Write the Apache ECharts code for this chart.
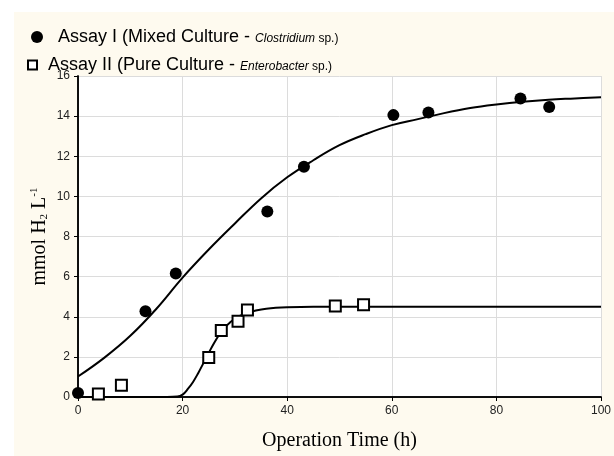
<!DOCTYPE html>
<html>
<head>
<meta charset="utf-8">
<script src="https://cdn.jsdelivr.net/npm/echarts@6/dist/echarts.min.js"></script>
<style>
html,body{margin:0;padding:0;background:#ffffff;}
#chart{width:614px;height:456px;}
</style>
</head>
<body>
<div id="chart"></div>
<script>
// Assay I (mixed culture) measured points [time h, mmol H2/L]
const assay1Points = [[0,0.2],[12.9,4.28],[18.7,6.15],[36.2,9.25],[43.2,11.48],[60.3,14.05],[67.0,14.18],[84.6,14.88],[90.1,14.45]];
// Assay II (pure culture) measured points
const assay2Points = [[3.9,0.15],[8.3,0.58],[25.0,1.97],[27.4,3.32],[30.6,3.77],[32.4,4.34],[49.2,4.53],[54.6,4.6]];
// fitted curve, Assay I
const assay1Curve = [[0,1.02],[5,1.95],[10,3.05],[15,4.4],[20,5.95],[25,7.35],[30,8.65],[35,9.9],[40,10.95],[45,11.8],[50,12.55],[55,13.1],[60,13.55],[65,13.85],[70,14.15],[75,14.4],[80,14.58],[85,14.72],[90,14.82],[95,14.88],[100,14.94]];
// fitted curve, Assay II
const assay2Curve = [[0,0],[10,0],[17,0],[19,0.02],[20,0.12],[21,0.4],[22,0.75],[23,1.2],[24,1.7],[25,2.2],[26,2.68],[27,3.1],[28,3.45],[29,3.7],[30,3.9],[32,4.16],[34,4.31],[36,4.4],[40,4.47],[45,4.5],[50,4.5],[60,4.5],[80,4.5],[100,4.5]];
const xTicks = {min:0, max:100, interval:20};
const yTicks = {min:0, max:16, interval:2};

const chart = echarts.init(document.getElementById('chart'), null, {renderer:'canvas'});
const sans = 'Liberation Sans, Arial, sans-serif';
const serif = 'Liberation Serif, Times New Roman, serif';

const option = {
  animation:false,
  backgroundColor:'#ffffff',
  graphic:[{type:'rect', z:-10, silent:true, shape:{x:14,y:12,width:600,height:444}, style:{fill:'#fefaef'}}],
  legend:[{
    left:26, top:23, orient:'vertical', itemWidth:12, itemHeight:12, itemGap:4,
    data:[{name:'Assay I', icon:'circle', itemStyle:{color:'#000', opacity:1}}],
    formatter:()=> '{a|Assay I (Mixed Culture - }{i|Clostridium}{s| sp.)}',
    textStyle:{rich:{
      a:{fontFamily:sans, fontSize:18, color:'#000', padding:[0,0,0,10]},
      i:{fontFamily:sans, fontSize:12, fontStyle:'italic', color:'#000', padding:[4,0,0,0]},
      s:{fontFamily:sans, fontSize:12, color:'#000', padding:[4,0,0,0]}
    }}
  },{
    left:22, top:51, orient:'vertical', itemWidth:9, itemHeight:9, itemGap:4,
    data:[{name:'Assay II', icon:'rect', itemStyle:{color:'#fff', borderColor:'#000', borderWidth:2}}],
    formatter:()=> '{a|Assay II (Pure Culture - }{i|Enterobacter}{s| sp.)}',
    textStyle:{rich:{
      a:{fontFamily:sans, fontSize:18, color:'#000', padding:[0,0,0,6]},
      i:{fontFamily:sans, fontSize:12, fontStyle:'italic', color:'#000', padding:[4,0,0,0]},
      s:{fontFamily:sans, fontSize:12, color:'#000', padding:[4,0,0,0]}
    }}
  }],
  grid:{left:78, right:13, top:76, bottom:58, show:true, backgroundColor:'#ffffff', borderWidth:0},
  xAxis:[{
    type:'value', min:xTicks.min, max:xTicks.max, interval:xTicks.interval,
    name:'Operation Time (h)', nameLocation:'middle', nameGap:34, nameMoveOverlap:false,
    nameTextStyle:{fontFamily:serif, fontSize:20, color:'#000'},
    axisLine:{show:true, lineStyle:{color:'#000', width:1.5}},
    axisTick:{show:true, inside:false, length:4, lineStyle:{color:'#000'}},
    axisLabel:{fontFamily:sans, fontSize:12, color:'#222', margin:8},
    splitLine:{show:true, lineStyle:{color:'#dcdcdc', width:1}}
  },{
    type:'value', position:'top', min:xTicks.min, max:xTicks.max, interval:xTicks.interval,
    axisLine:{show:true, lineStyle:{color:'#000', width:1.5}},
    axisTick:{show:true, inside:true, length:4, lineStyle:{color:'#000'}},
    axisLabel:{show:false}, splitLine:{show:false}
  }],
  yAxis:[{
    type:'value', min:yTicks.min, max:yTicks.max, interval:yTicks.interval,
    name:'{m|mmol H}{sub|2}{m| L}{sup|-1}', nameLocation:'middle', nameGap:28, nameRotate:90, nameMoveOverlap:false,
    nameTextStyle:{rich:{
      m:{fontFamily:serif, fontSize:20, color:'#000'},
      sub:{fontFamily:serif, fontSize:11, color:'#000', verticalAlign:'bottom', padding:[8,0,0,0]},
      sup:{fontFamily:serif, fontSize:11, color:'#000', verticalAlign:'top', padding:[0,0,10,0]}
    }},
    axisLine:{show:true, lineStyle:{color:'#000', width:1.5}},
    axisTick:{show:true, inside:false, length:4, lineStyle:{color:'#000'}},
    axisLabel:{fontFamily:sans, fontSize:12, color:'#222', margin:8},
    splitLine:{show:true, lineStyle:{color:'#dcdcdc', width:1}}
  },{
    type:'value', position:'right', min:yTicks.min, max:yTicks.max, interval:yTicks.interval,
    axisLine:{show:true, lineStyle:{color:'#000', width:1.5}},
    axisTick:{show:true, inside:true, length:4, lineStyle:{color:'#000'}},
    axisLabel:{show:false}, splitLine:{show:false}
  }],
  series:[
    {name:'Assay I fit', type:'line', data:assay1Curve, smooth:0.4, showSymbol:false, symbol:'none',
     lineStyle:{color:'#000', width:2}, z:2, clip:true},
    {name:'Assay II fit', type:'line', data:assay2Curve, smooth:0.4, showSymbol:false, symbol:'none',
     lineStyle:{color:'#000', width:2}, z:2, clip:true},
    {name:'Assay I', type:'scatter', data:assay1Points, symbol:'circle', symbolSize:12,
     itemStyle:{color:'#000', opacity:1}, z:3, clip:true},
    {name:'Assay II', type:'scatter', data:assay2Points, symbol:'rect', symbolSize:11,
     itemStyle:{color:'#fff', borderColor:'#000', borderWidth:2, opacity:1}, z:4, clip:true}
  ]
};
chart.setOption(option);
</script>
</body>
</html>
